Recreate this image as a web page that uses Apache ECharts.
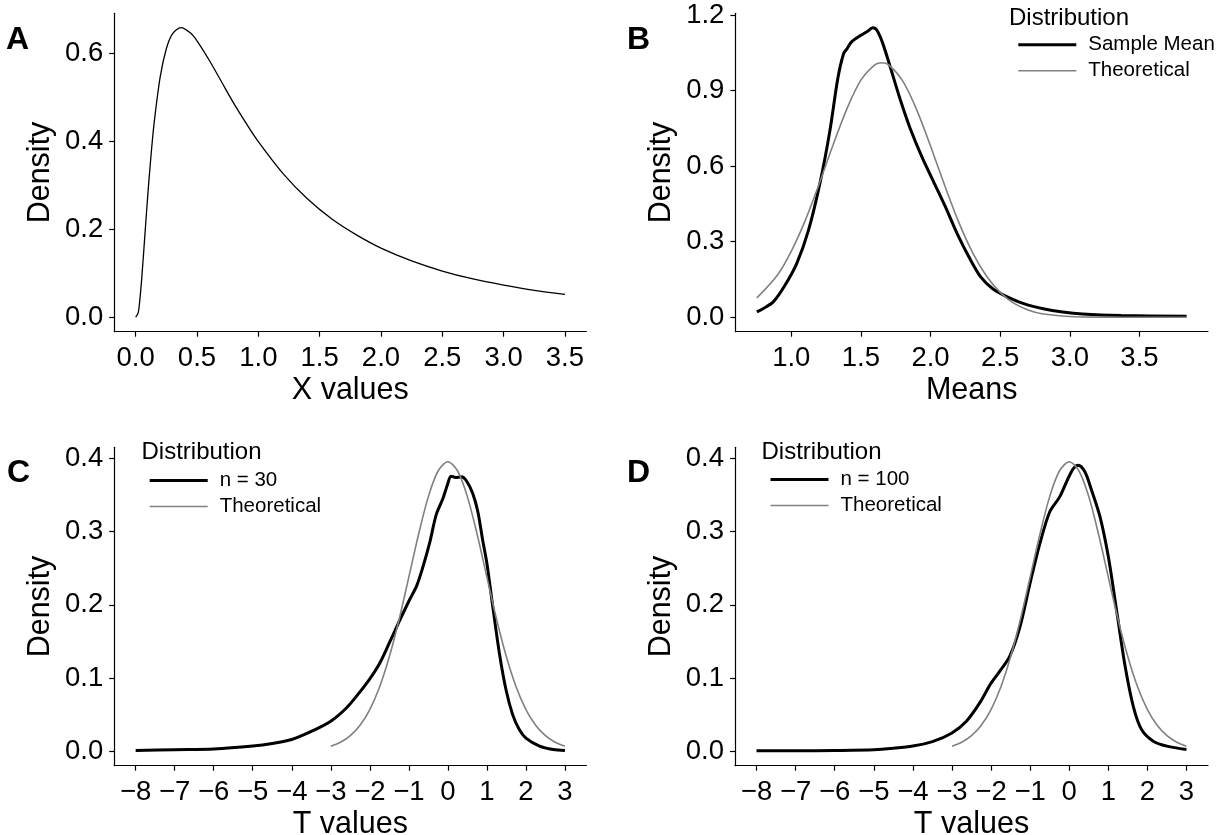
<!DOCTYPE html>
<html>
<head>
<meta charset="utf-8">
<title>Density panels</title>
<script src="https://cdn.jsdelivr.net/npm/echarts@6/dist/echarts.min.js"></script>
<style>
html, body { margin: 0; padding: 0; background: #fff; }
#chart { width: 1226px; height: 835px; }
</style>
</head>
<body>
<div id="chart"></div>
<script>
// A: density of the raw values
var aX = [0, 0.02, 0.03, 0.05, 0.075, 0.1, 0.125, 0.15, 0.2, 0.25, 0.3, 0.37, 0.45, 0.5, 0.6, 0.7, 0.8, 0.9, 1.0, 1.2, 1.4, 1.6, 1.8, 2.0, 2.25, 2.5, 2.75, 3.0, 3.25, 3.5];
var aY = [0, 0.0095, 0.028, 0.090, 0.186, 0.282, 0.367, 0.440, 0.546, 0.610, 0.644, 0.658, 0.645, 0.628, 0.584, 0.535, 0.486, 0.441, 0.399, 0.327, 0.269, 0.223, 0.187, 0.157, 0.128, 0.105, 0.087, 0.073, 0.061, 0.052];

// B: sample means vs theoretical
var bMeanX = [0.753, 0.80, 0.871, 0.955, 1.039, 1.124, 1.208, 1.278, 1.334, 1.376, 1.40, 1.433, 1.5, 1.545, 1.585, 1.615, 1.657, 1.713, 1.784, 1.854, 1.938, 2.022, 2.107, 2.191, 2.275, 2.36, 2.444, 2.528, 2.669, 2.809, 2.949, 3.09, 3.37, 3.838];
var bMeanY = [0.021, 0.035, 0.061, 0.127, 0.213, 0.346, 0.538, 0.743, 0.948, 1.048, 1.066, 1.094, 1.12, 1.135, 1.150, 1.140, 1.088, 0.990, 0.862, 0.750, 0.637, 0.538, 0.438, 0.332, 0.240, 0.160, 0.114, 0.087, 0.054, 0.034, 0.021, 0.013, 0.007, 0.004];
var bTheoX = [0.753, 0.9, 1.0, 1.1, 1.2, 1.3, 1.4, 1.5, 1.6, 1.65, 1.7, 1.8, 1.9, 2.0, 2.1, 2.2, 2.3, 2.4, 2.5, 2.6, 2.7, 2.8, 3.0, 3.2, 3.5, 3.838];
var bTheoY = [0.077, 0.167, 0.262, 0.384, 0.529, 0.684, 0.829, 0.942, 1.003, 1.011, 1.003, 0.939, 0.825, 0.680, 0.526, 0.381, 0.259, 0.165, 0.099, 0.055, 0.029, 0.014, 0.003, 0.0004, 0, 0];

// C and D: T values, n = 30 and n = 100
var cX = [-8, -7, -6, -5, -4.5, -4, -3.5, -3, -2.6, -2.3, -2, -1.75, -1.5, -1.25, -1, -0.8, -0.65, -0.47, -0.3, -0.13, 0, 0.08, 0.2, 0.34, 0.47, 0.64, 0.77, 0.89, 1.0, 1.15, 1.32, 1.49, 1.66, 1.83, 2.0, 2.35, 2.7, 3.0];
var cY = [0.001, 0.002, 0.003, 0.007, 0.0105, 0.016, 0.027, 0.041, 0.059, 0.078, 0.099, 0.12, 0.148, 0.177, 0.205, 0.226, 0.25, 0.284, 0.323, 0.345, 0.366, 0.376, 0.374, 0.375, 0.370, 0.352, 0.327, 0.289, 0.257, 0.198, 0.134, 0.084, 0.050, 0.0296, 0.018, 0.007, 0.0023, 0.001];
var dX = [-8, -7, -6, -5, -4.5, -4, -3.5, -3, -2.63, -2.29, -2, -1.78, -1.52, -1.26, -1, -0.75, -0.5, -0.24, -0.07, 0.1, 0.23, 0.4, 0.57, 0.79, 1.0, 1.21, 1.43, 1.64, 1.85, 2.15, 2.5, 3.0];
var dY = [0.0005, 0.0005, 0.001, 0.002, 0.004, 0.007, 0.013, 0.025, 0.041, 0.066, 0.093, 0.109, 0.13, 0.17, 0.23, 0.284, 0.327, 0.348, 0.368, 0.386, 0.391, 0.382, 0.357, 0.320, 0.266, 0.193, 0.116, 0.061, 0.0296, 0.0137, 0.0069, 0.0023];
var tTheoX = [-3, -2.75, -2.5, -2.25, -2, -1.75, -1.5, -1.25, -1, -0.75, -0.5, -0.25, 0, 0.25, 0.5, 0.75, 1, 1.25, 1.5, 1.75, 2, 2.25, 2.5, 2.75, 3];
var tTheoY = [0.0069, 0.0122, 0.0212, 0.0354, 0.057, 0.0877, 0.129, 0.180, 0.238, 0.2965, 0.348, 0.383, 0.3956, 0.383, 0.348, 0.2965, 0.238, 0.180, 0.129, 0.0877, 0.057, 0.0354, 0.0212, 0.0122, 0.0069];

// tick labels
var aXTicks = [0, 0.5, 1.0, 1.5, 2.0, 2.5, 3.0, 3.5];
var aYTicks = [0, 0.2, 0.4, 0.6];
var bXTicks = [1.0, 1.5, 2.0, 2.5, 3.0, 3.5];
var bYTicks = [0, 0.3, 0.6, 0.9, 1.2];
var tXTicks = [-8, -7, -6, -5, -4, -3, -2, -1, 0, 1, 2, 3];
var tYTicks = [0, 0.1, 0.2, 0.3, 0.4];

var FONT = '"Liberation Sans", Arial, Helvetica, sans-serif';
var GREY = '#808080';
var THICK = 'path://M0 0H58V3H0Z';
var THIN = 'path://M0 0H58V1.5H0Z';

function pairs(xs, ys){
	var out = [];
	for(var i=0; i<xs.length; i++){
		out.push([xs[i], ys[i]]);
	}
	return out;
}
function fixed1(v){ return v.toFixed(1); }
function minus(v){ return String(v).replace('-', '\u2212'); }

function xAxis(idx, min, max, ticks, fmt, name){
	return {
		gridIndex: idx, type: 'value', position: 'bottom', min: min, max: max,
		name: name, nameLocation: 'middle', nameGap: 43.5, nameMoveOverlap: false,
		nameTextStyle: {fontSize: 30.5, color: '#000', fontFamily: FONT},
		axisLine: {show: true, onZero: false, lineStyle: {color: '#000', width: 1.2}},
		axisTick: {show: true, length: 5, customValues: ticks, lineStyle: {color: '#000', width: 1.2}},
		axisLabel: {customValues: ticks, formatter: fmt, margin: 12.5, fontSize: 27.5, color: '#000', fontFamily: FONT},
		splitLine: {show: false}
	};
}
function yAxis(idx, min, max, ticks){
	return {
		gridIndex: idx, type: 'value', position: 'left', min: min, max: max,
		name: 'Density', nameLocation: 'middle', nameGap: 58, nameMoveOverlap: false,
		nameTextStyle: {fontSize: 30.5, color: '#000', fontFamily: FONT},
		axisLine: {show: true, onZero: false, lineStyle: {color: '#000', width: 1.2}},
		axisTick: {show: true, length: 5, customValues: ticks, lineStyle: {color: '#000', width: 1.2}},
		axisLabel: {customValues: ticks, formatter: fixed1, margin: 11, fontSize: 27.5, color: '#000', fontFamily: FONT},
		splitLine: {show: false}
	};
}
function curve(name, idx, xs, ys, color, width){
	return {
		name: name, type: 'line', xAxisIndex: idx, yAxisIndex: idx,
		data: pairs(xs, ys), symbol: 'none', showSymbol: false, smooth: 0.3,
		lineStyle: {color: color, width: width}, itemStyle: {color: color},
		silent: true
	};
}
function tag(text, left, top){
	return {text: text, left: left, top: top, padding: 0,
		textStyle: {fontSize: 32, fontWeight: 'bold', color: '#000', fontFamily: FONT}};
}
function legTitle(left, top){
	return {text: 'Distribution', left: left, top: top, padding: 0,
		textStyle: {fontSize: 24, fontWeight: 'normal', color: '#000', fontFamily: FONT}};
}
function legend(left, top, first){
	return {
		left: left, top: top, orient: 'vertical', padding: 0,
		itemWidth: 58, itemHeight: 14, itemGap: 5, selectedMode: false,
		data: [
			{name: first, icon: THICK, itemStyle: {color: '#000', borderWidth: 0}},
			{name: 'Theoretical', icon: THIN, itemStyle: {color: GREY, borderWidth: 0}}
		],
		textStyle: {fontSize: 20.5, lineHeight: 20, color: '#000', fontFamily: FONT, padding: [0, 0, 0, 7]}
	};
}

var option = {
	backgroundColor: '#fff',
	animation: false,
	title: [
		tag('A', 6, 24), tag('B', 627, 24), tag('C', 7, 457), tag('D', 627, 457),
		legTitle(1009, 6), legTitle(141.5, 440), legTitle(761.5, 440)
	],
	legend: [
		legend(1018.3, 34.3, 'Sample Mean'),
		legend(149.7, 470, 'n = 30'),
		legend(770.5, 469, 'n = 100')
	],
	grid: [
		{left: 114.2, top: 13.3, width: 472.2, height: 318.4, outerBoundsMode: 'none'},
		{left: 735.4, top: 13.3, width: 472.6, height: 318.4, outerBoundsMode: 'none'},
		{left: 114.2, top: 447.3, width: 472.2, height: 318.4, outerBoundsMode: 'none'},
		{left: 735, top: 447.3, width: 473, height: 318.4, outerBoundsMode: 'none'}
	],
	xAxis: [
		xAxis(0, -0.175, 3.675, aXTicks, fixed1, 'X values'),
		xAxis(1, 0.599, 3.992, bXTicks, fixed1, 'Means'),
		xAxis(2, -8.55, 3.55, tXTicks, minus, 'T values'),
		xAxis(3, -8.55, 3.55, tXTicks, minus, 'T values')
	],
	yAxis: [
		yAxis(0, -0.0329, 0.6906, aYTicks),
		yAxis(1, -0.0575, 1.2075, bYTicks),
		yAxis(2, -0.0198, 0.4154, tYTicks),
		yAxis(3, -0.0198, 0.4154, tYTicks)
	],
	series: [
		curve('X density', 0, aX, aY, '#000', 1.3),
		curve('Sample Mean', 1, bMeanX, bMeanY, '#000', 3),
		curve('Theoretical', 1, bTheoX, bTheoY, GREY, 1.6),
		curve('n = 30', 2, cX, cY, '#000', 3),
		curve('Theoretical', 2, tTheoX, tTheoY, GREY, 1.6),
		curve('n = 100', 3, dX, dY, '#000', 3),
		curve('Theoretical', 3, tTheoX, tTheoY, GREY, 1.6)
	]
};

var myChart = echarts.init(document.getElementById('chart'), null, {renderer: 'canvas'});
myChart.setOption(option);
</script>
</body>
</html>
